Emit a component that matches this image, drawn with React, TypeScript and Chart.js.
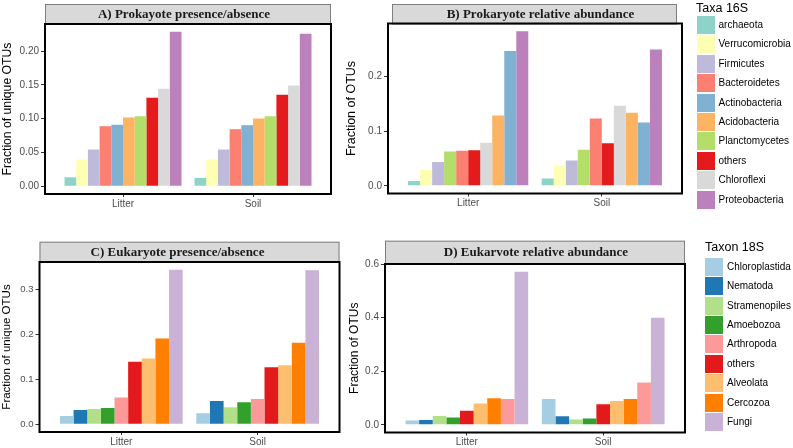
import React, { useEffect, useRef } from "react";
import { Chart, registerables } from "chart.js";

Chart.register(...registerables);

// ---------- data ----------
const categories = ["Litter", "Soil"];

const taxa16S = ["archaeota", "Verrucomicrobia", "Firmicutes", "Bacteroidetes", "Actinobacteria", "Acidobacteria", "Planctomycetes", "others", "Chloroflexi", "Proteobacteria"];
const colors16S = ["#8DD3C7", "#FFFFB3", "#BEBADA", "#FB8072", "#80B1D3", "#FDB462", "#B3DE69", "#E41A1C", "#D9D9D9", "#BC80BD"];

const taxa18S = ["Chloroplastida", "Nematoda", "Stramenopiles", "Amoebozoa", "Arthropoda", "others", "Alveolata", "Cercozoa", "Fungi"];
const colors18S = ["#A6CEE3", "#1F78B4", "#B2DF8A", "#33A02C", "#FB9A99", "#E31A1C", "#FDBF6F", "#FF7F00", "#CAB2D6"];

// A) Prokaryote presence/absence
const orderA = ["archaeota", "Verrucomicrobia", "Firmicutes", "Bacteroidetes", "Actinobacteria", "Acidobacteria", "Planctomycetes", "others", "Chloroflexi", "Proteobacteria"];
const litterA = [0.0133, 0.0395, 0.0544, 0.0889, 0.091, 0.1018, 0.1037, 0.131, 0.1443, 0.2287];
const soilA = [0.0124, 0.0395, 0.0544, 0.0845, 0.0904, 0.1003, 0.1037, 0.1354, 0.1492, 0.2257];
const ticksA = [0, 0.05, 0.1, 0.15, 0.2];
const tickLabelsA = ["0.00", "0.05", "0.10", "0.15", "0.20"];

// B) Prokaryote relative abundance
const orderB = ["archaeota", "Verrucomicrobia", "Firmicutes", "Planctomycetes", "Bacteroidetes", "others", "Chloroflexi", "Acidobacteria", "Actinobacteria", "Proteobacteria"];
const litterB = [0.0086, 0.0286, 0.0432, 0.0628, 0.0639, 0.0651, 0.0785, 0.1285, 0.2464, 0.2823];
const soilB = [0.0135, 0.0372, 0.0463, 0.0657, 0.123, 0.0779, 0.146, 0.1332, 0.1157, 0.2489];
const ticksB = [0, 0.1, 0.2];
const tickLabelsB = ["0.0", "0.1", "0.2"];

// C) Eukaryote presence/absence
const orderC = ["Chloroplastida", "Nematoda", "Stramenopiles", "Amoebozoa", "Arthropoda", "others", "Alveolata", "Cercozoa", "Fungi"];
const litterC = [0.0185, 0.0318, 0.034, 0.0363, 0.0593, 0.1385, 0.1459, 0.1903, 0.343];
const soilC = [0.0244, 0.0518, 0.0378, 0.0489, 0.0563, 0.1267, 0.131, 0.1807, 0.342];
const ticksC = [0, 0.1, 0.2, 0.3];
const tickLabelsC = ["0.0", "0.1", "0.2", "0.3"];

// D) Eukaryote relative abundance
const orderD = ["Chloroplastida", "Nematoda", "Stramenopiles", "Amoebozoa", "others", "Alveolata", "Cercozoa", "Arthropoda", "Fungi"];
const litterD = [0.016, 0.0185, 0.0333, 0.027, 0.053, 0.08, 0.0988, 0.0963, 0.5716];
const soilD = [0.0963, 0.032, 0.0197, 0.0235, 0.0765, 0.0889, 0.0963, 0.158, 0.4];
const ticksD = [0, 0.2, 0.4, 0.6];
const tickLabelsD = ["0.0", "0.2", "0.4", "0.6"];

// ---------- layout ----------
const W = 793;
const H = 448;
const SANS = '"Liberation Sans", Arial, Helvetica, sans-serif';
const SERIF = '"Liberation Serif", "Times New Roman", serif';

type PanelSpec = {
  title: string;
  yTitle: string;
  yTitleSize: number;
  tickSize: number;
  order: string[];
  litter: number[];
  soil: number[];
  taxa: string[];
  colors: string[];
  ticks: number[];
  tickLabels: string[];
  box: { l: number; r: number; t: number; b: number };
  axisLeft: number;
  strip: { insetL: number; insetR: number; h: number; dx: number };
};

const panels: PanelSpec[] = [
  {
    title: "A) Prokayote presence/absence", yTitle: "Fraction of unique OTUs", yTitleSize: 12.2, tickSize: 10,
    order: orderA, litter: litterA, soil: soilA, taxa: taxa16S, colors: colors16S,
    ticks: ticksA, tickLabels: tickLabelsA,
    box: { l: 45, r: 331, t: 24, b: 194 }, axisLeft: 0.5,
    strip: { insetL: 0, insetR: 0, h: 20, dx: -4 },
  },
  {
    title: "B) Prokaryote relative abundance", yTitle: "Fraction of OTUs", yTitleSize: 12.5, tickSize: 10,
    order: orderB, litter: litterB, soil: soilB, taxa: taxa16S, colors: colors16S,
    ticks: ticksB, tickLabels: tickLabelsB,
    box: { l: 388, r: 682, t: 23.5, b: 193.5 }, axisLeft: 344.5,
    strip: { insetL: 4, insetR: 5, h: 19.5, dx: 6 },
  },
  {
    title: "C) Eukaryote presence/absence", yTitle: "Fraction of unique OTUs", yTitleSize: 11.5, tickSize: 9.5,
    order: orderC, litter: litterC, soil: soilC, taxa: taxa18S, colors: colors18S,
    ticks: ticksC, tickLabels: tickLabelsC,
    box: { l: 39.5, r: 339.5, t: 262, b: 432 }, axisLeft: 0,
    strip: { insetL: 0, insetR: 0, h: 20.3, dx: -12 },
  },
  {
    title: "D) Eukarvote relative abundance", yTitle: "Fraction of OTUs", yTitleSize: 12, tickSize: 10,
    order: orderD, litter: litterD, soil: soilD, taxa: taxa18S, colors: colors18S,
    ticks: ticksD, tickLabels: tickLabelsD,
    box: { l: 385, r: 685, t: 264, b: 432.5 }, axisLeft: 347.3,
    strip: { insetL: 0, insetR: 0, h: 23.3, dx: 1 },
  },
];

const X_AXIS_H = 14;

const frameStripPlugin = {
  id: "frameStrip",
  afterDraw(chart: any, _args: any, opts: any) {
    const { ctx, chartArea: a } = chart;
    const s = opts.strip;
    ctx.save();
    const sl = a.left + s.insetL;
    const sr = a.right - s.insetR;
    const st = a.top - s.h;
    ctx.fillStyle = "#d9d9d9";
    ctx.fillRect(sl, st, sr - sl, s.h);
    ctx.strokeStyle = "#7f7f7f";
    ctx.lineWidth = 1;
    ctx.strokeRect(sl + 0.5, st + 0.5, sr - sl - 1, s.h);
    ctx.fillStyle = "#1a1a1a";
    ctx.font = `bold 13px ${SERIF}`;
    ctx.textAlign = "center";
    ctx.textBaseline = "middle";
    ctx.fillText(opts.title, (sl + sr) / 2 + s.dx, st + s.h / 2 + 0.5);
    ctx.strokeStyle = "#000";
    ctx.lineWidth = 2;
    ctx.strokeRect(a.left, a.top, a.right - a.left, a.bottom - a.top);
    ctx.restore();
  },
};

function Panel({ spec }: { spec: PanelSpec }) {
  const ref = useRef<HTMLCanvasElement | null>(null);
  useEffect(() => {
    if (!ref.current) return;
    const maxVal = Math.max(...spec.litter, ...spec.soil);
    const datasets = spec.order.map((name, i) => ({
      label: name,
      data: [
        { x: 1, y: spec.litter[i] },
        { x: 2, y: spec.soil[i] },
      ],
      backgroundColor: spec.colors[spec.taxa.indexOf(name)],
      borderWidth: 0,
      categoryPercentage: 0.9,
      barPercentage: 1.0,
    }));
    const yWidth = spec.box.l - spec.axisLeft;
    const chart = new Chart(ref.current, {
      type: "bar",
      data: { datasets },
      plugins: [frameStripPlugin],
      options: {
        animation: false,
        responsive: false,
        maintainAspectRatio: false,
        devicePixelRatio: 1,
        events: [],
        layout: {
          padding: {
            left: spec.axisLeft,
            right: W - spec.box.r,
            top: spec.box.t,
            bottom: H - spec.box.b - X_AXIS_H,
          },
        },
        plugins: {
          legend: { display: false },
          tooltip: { enabled: false },
          title: { display: false },
          frameStrip: { strip: spec.strip, title: spec.title },
        } as any,
        scales: {
          x: {
            type: "linear",
            min: 0.4,
            max: 2.6,
            offset: false,
            grid: { display: true, drawOnChartArea: false, drawTicks: true, tickLength: 3, tickColor: "#333333", offset: false },
            border: { display: false },
            ticks: {
              font: { size: 10, family: SANS },
              color: "#4d4d4d",
              padding: 1,
              maxRotation: 0,
              autoSkip: false,
              callback: (v: any) => categories[Math.round(Number(v)) - 1] ?? "",
            },
            afterBuildTicks: (axis: any) => {
              axis.ticks = categories.map((_, i) => ({ value: i + 1 }));
            },
            afterFit: (axis: any) => {
              axis.height = X_AXIS_H;
            },
          },
          y: {
            type: "linear",
            min: -0.05 * maxVal,
            max: 1.05 * maxVal,
            grid: { display: true, drawOnChartArea: false, drawTicks: true, tickLength: 4, tickColor: "#333333" },
            border: { display: false },
            ticks: {
              font: { size: spec.tickSize, family: SANS },
              color: "#4d4d4d",
              padding: 2,
              autoSkip: false,
              callback: (_v: any, i: number) => spec.tickLabels[i],
            },
            afterBuildTicks: (axis: any) => {
              axis.ticks = spec.ticks.map((v) => ({ value: v }));
            },
            afterFit: (axis: any) => {
              axis.width = yWidth;
            },
            title: {
              display: true,
              text: spec.yTitle,
              color: "#000000",
              padding: 0,
              font: { size: spec.yTitleSize, family: SANS, weight: "normal" },
            },
          },
        },
      } as any,
    });
    return () => chart.destroy();
  }, [spec]);
  return (
    <canvas
      ref={ref}
      width={W}
      height={H}
      style={{ position: "absolute", left: 0, top: 0, width: W, height: H }}
    />
  );
}

function Legend({ title, items, colors, titleX, titleY, keyX, textX, firstY, step }: {
  title: string; items: string[]; colors: string[]; titleX: number; titleY: number; keyX: number; textX: number; firstY: number; step: number;
}) {
  return (
    <>
      <div style={{ position: "absolute", left: titleX, top: titleY, transform: "translateY(-50%)", font: `12.5px ${SANS}`, color: "#000", lineHeight: 1, whiteSpace: "nowrap" }}>
        {title}
      </div>
      {items.map((name, i) => {
        const cy = firstY + step * i;
        return (
          <React.Fragment key={name}>
            <div style={{ position: "absolute", left: keyX, top: cy - 9, width: 18, height: 18, background: colors[i] }} />
            <div style={{ position: "absolute", left: textX, top: cy, transform: "translateY(-50%)", font: `10px ${SANS}`, color: "#000", lineHeight: 1, whiteSpace: "nowrap" }}>
              {name}
            </div>
          </React.Fragment>
        );
      })}
    </>
  );
}

export default function App() {
  return (
    <div style={{ position: "fixed", left: 0, top: 0, width: W, height: H, background: "#ffffff", overflow: "hidden" }}>
      {panels.map((p) => (
        <Panel key={p.title} spec={p} />
      ))}
      <Legend title="Taxa 16S" items={taxa16S} colors={colors16S} titleX={696} titleY={7.5} keyX={697} textX={718.5} firstY={25} step={19.4} />
      <Legend title="Taxon 18S" items={taxa18S} colors={colors18S} titleX={705} titleY={247} keyX={705} textX={727} firstY={266.7} step={19.4} />
    </div>
  );
}
